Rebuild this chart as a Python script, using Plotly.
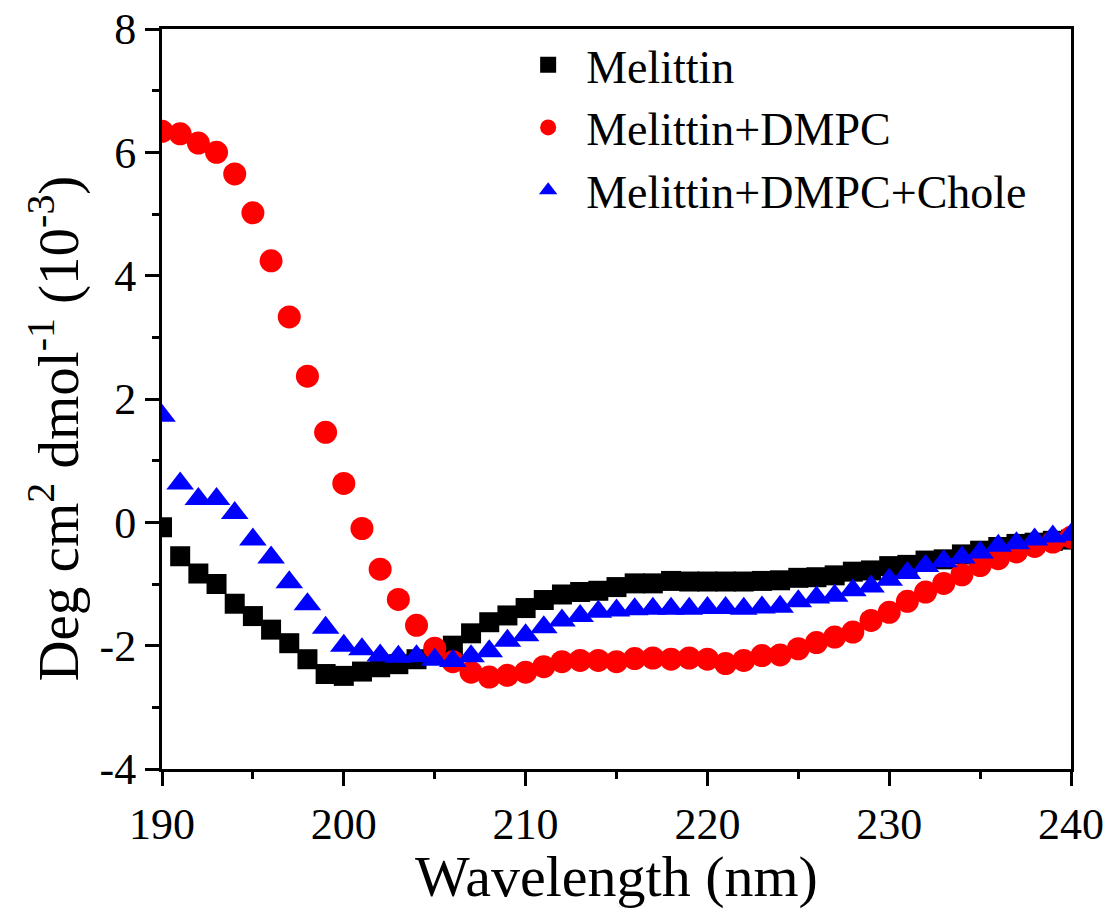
import plotly.graph_objects as go

wavelength = list(range(190, 241))

melittin = [-0.08, -0.55, -0.83, -1.00, -1.32, -1.52, -1.74, -1.96, -2.22, -2.46,
            -2.49, -2.42, -2.35, -2.30, -2.22, -2.12, -2.00, -1.80, -1.62, -1.51,
            -1.39, -1.26, -1.17, -1.13, -1.11, -1.05, -0.99, -0.99, -0.95, -0.96,
            -0.96, -0.96, -0.96, -0.95, -0.94, -0.90, -0.89, -0.86, -0.80, -0.78,
            -0.71, -0.69, -0.62, -0.60, -0.52, -0.46, -0.40, -0.35, -0.33, -0.30,
            -0.28]

melittin_dmpc = [6.34, 6.30, 6.15, 6.00, 5.65, 5.02, 4.24, 3.33, 2.37, 1.46,
                 0.63, -0.10, -0.76, -1.25, -1.67, -2.04, -2.26, -2.43, -2.51, -2.48,
                 -2.43, -2.34, -2.26, -2.24, -2.24, -2.26, -2.21, -2.20, -2.22, -2.20,
                 -2.22, -2.29, -2.24, -2.16, -2.15, -2.05, -1.95, -1.86, -1.78, -1.59,
                 -1.46, -1.28, -1.13, -0.99, -0.85, -0.70, -0.59, -0.48, -0.39, -0.32,
                 -0.24]

melittin_dmpc_chole = [1.73, 0.63, 0.38, 0.38, 0.15, -0.28, -0.57, -0.97, -1.33, -1.71,
                       -2.00, -2.06, -2.16, -2.18, -2.17, -2.23, -2.25, -2.17, -2.09, -1.92,
                       -1.83, -1.70, -1.59, -1.52, -1.45, -1.43, -1.41, -1.40, -1.40, -1.40,
                       -1.39, -1.39, -1.40, -1.38, -1.37, -1.28, -1.22, -1.19, -1.10, -1.04,
                       -0.93, -0.82, -0.71, -0.63, -0.57, -0.49, -0.38, -0.34, -0.28, -0.23,
                       -0.20]

series_names = ["Melittin", "Melittin+DMPC", "Melittin+DMPC+Chole"]
x_ticks = [190, 200, 210, 220, 230, 240]
x_tick_labels = ["190", "200", "210", "220", "230", "240"]
y_ticks = [-4, -2, 0, 2, 4, 6, 8]
y_tick_labels = ["-4", "-2", "0", "2", "4", "6", "8"]
x_title = "Wavelength (nm)"
y_title = "Deg cm<sup>2</sup> dmol<sup>-1</sup> (10<sup>-3</sup>)"

FONT = "Liberation Serif, Times New Roman, serif"

fig = go.Figure()
fig.add_trace(go.Scatter(x=wavelength, y=melittin, mode="markers", name=series_names[0],
                         marker=dict(symbol="square", size=20, color="black", line=dict(width=0))))
fig.add_trace(go.Scatter(x=wavelength, y=melittin_dmpc, mode="markers", name=series_names[1],
                         marker=dict(symbol="circle", size=23, color="red", line=dict(width=0))))
fig.add_trace(go.Scatter(x=wavelength, y=melittin_dmpc_chole, mode="markers", name=series_names[2],
                         marker=dict(symbol="triangle-up", size=24, color="blue", line=dict(width=0))))

axis_common = dict(
    showline=True, linewidth=3, linecolor="black", mirror=True,
    ticks="outside", ticklen=14, tickwidth=3, tickcolor="black",
    showgrid=False, zeroline=False, automargin=False,
    tickfont=dict(family=FONT, size=44, color="black"),
)

fig.update_layout(
    width=1109, height=909,
    margin=dict(l=162, r=38, t=29, b=140),
    paper_bgcolor="white", plot_bgcolor="white",
    font=dict(family=FONT, color="black"),
    xaxis=dict(range=[190, 240], tickvals=x_ticks, ticktext=x_tick_labels,
               minor=dict(dtick=5, ticks="outside", ticklen=7, tickwidth=3, tickcolor="black"),
               title=dict(text=x_title, font=dict(family=FONT, size=58), standoff=10),
               **axis_common),
    yaxis=dict(range=[-4, 8], tickvals=y_ticks, ticktext=y_tick_labels,
               minor=dict(dtick=1, ticks="outside", ticklen=7, tickwidth=3, tickcolor="black"),
               **axis_common),
    annotations=[dict(text=y_title, textangle=-90, xref="paper", yref="paper",
                      x=-0.1177, y=0.46, xanchor="center", yanchor="middle",
                      showarrow=False, font=dict(family=FONT, size=57, color="black"))],
    legend=dict(x=0.383, y=1.001, xanchor="left", yanchor="top",
                font=dict(family=FONT, size=46, color="black"),
                bgcolor="rgba(0,0,0,0)", borderwidth=0, itemsizing="trace",
                itemwidth=66, tracegroupgap=0),
    showlegend=True,
)

fig.write_html("out.html")
